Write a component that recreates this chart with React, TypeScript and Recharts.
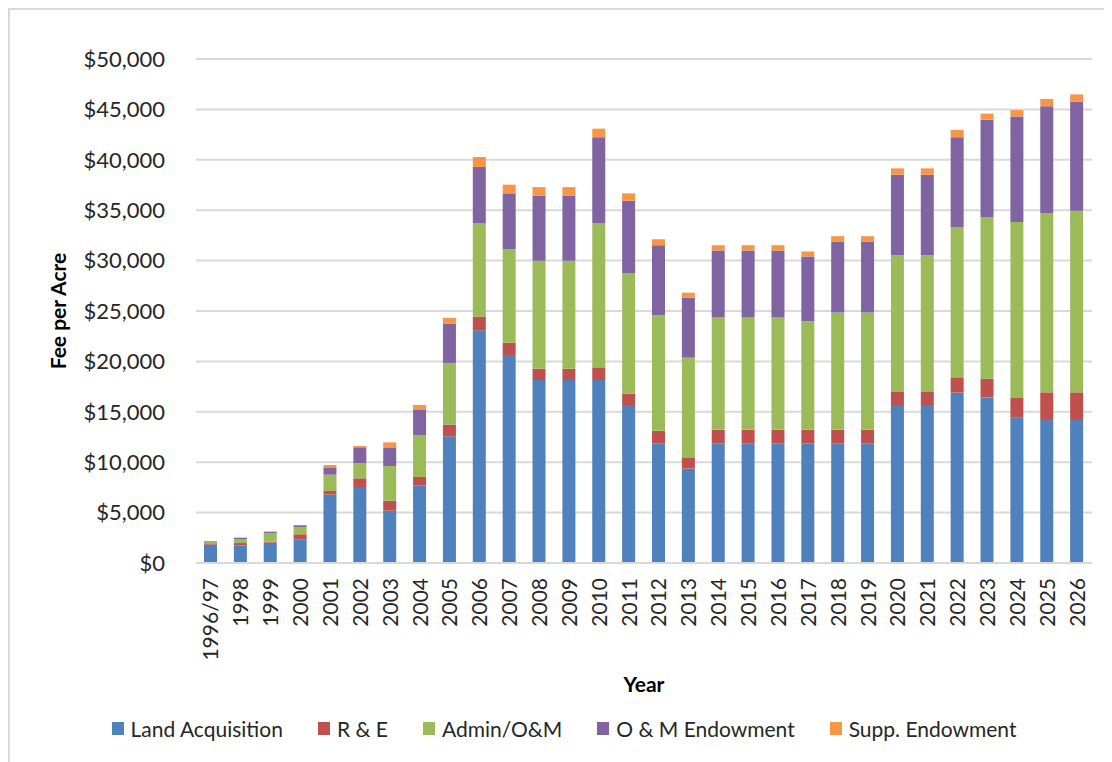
import React from "react";
import { BarChart, Bar, XAxis, YAxis, CartesianGrid } from "recharts";

const years = [
  "1996/97", "1998", "1999", "2000", "2001", "2002", "2003", "2004", "2005", "2006",
  "2007", "2008", "2009", "2010", "2011", "2012", "2013", "2014", "2015", "2016",
  "2017", "2018", "2019", "2020", "2021", "2022", "2023", "2024", "2025", "2026",
];
const landAcquisition = [
  1820, 1750, 2020, 2350, 6780, 7540, 5190, 7670, 12570, 23080,
  20630, 18150, 18150, 18150, 15670, 11850, 9360, 11850, 11850, 11850,
  11850, 11850, 11850, 15670, 15670, 16900, 16430, 14450, 14190, 14190,
];
const rAndE = [
  130, 230, 100, 500, 360, 860, 990, 860, 1160, 1360,
  1220, 1120, 1120, 1260, 1120, 1260, 1120, 1360, 1360, 1360,
  1360, 1360, 1360, 1360, 1360, 1520, 1850, 1980, 2740, 2740,
];
const adminOM = [
  130, 400, 860, 690, 1620, 1490, 3440, 4170, 6120, 9290,
  9260, 10710, 10710, 14320, 11970, 11470, 9890, 11140, 11140, 11140,
  10780, 11640, 11640, 13490, 13490, 14910, 16040, 17390, 17760, 18020,
];
const omEndowment = [
  70, 130, 130, 200, 730, 1590, 1850, 2480, 3870, 5560,
  5560, 6450, 6450, 8500, 7180, 6940, 5950, 6650, 6650, 6650,
  6420, 7010, 7010, 8000, 8000, 8900, 9660, 10480, 10620, 10810,
];
const suppEndowment = [
  0, 0, 0, 0, 230, 130, 500, 500, 600, 990,
  860, 860, 860, 860, 730, 600, 500, 530, 530, 530,
  500, 560, 560, 630, 630, 730, 600, 630, 730, 730,
];
const yTicks = [0, 5000, 10000, 15000, 20000, 25000, 30000, 35000, 40000, 45000, 50000];

const series = [
  { key: "land", name: "Land Acquisition", color: "#4F81BD" },
  { key: "re", name: "R & E", color: "#C0504D" },
  { key: "admin", name: "Admin/O&M", color: "#9BBB59" },
  { key: "om", name: "O & M Endowment", color: "#8064A2" },
  { key: "supp", name: "Supp. Endowment", color: "#F79646" },
];

const data = years.map((year, i) => ({
  year,
  land: landAcquisition[i],
  re: rAndE[i],
  admin: adminOM[i],
  om: omEndowment[i],
  supp: suppEndowment[i],
}));

const font = "Lato, 'Noto Sans', sans-serif";
const textColor = "#262626";

function YearTick({ x, y, payload }: any) {
  return (
    <g transform={`translate(${x},${y})`}>
      <text
        x={0}
        y={0}
        dy="0.36em"
        textAnchor="end"
        transform="rotate(-90)"
        fontFamily={font}
        fontSize={21}
        fill={textColor}
      >
        {payload.value}
      </text>
    </g>
  );
}

function YearLabel({ viewBox }: any) {
  const cx = viewBox.x + viewBox.width / 2;
  return (
    <text x={cx} y={682} textAnchor="middle" fontFamily={font} fontSize={21} fontWeight={700} fill="#000">
      Year
    </text>
  );
}

function FeeLabel({ viewBox }: any) {
  const cx = 48;
  const cy = viewBox.y + viewBox.height / 2;
  return (
    <text
      x={cx}
      y={cy}
      dy="0.36em"
      textAnchor="middle"
      transform={`rotate(-90 ${cx} ${cy})`}
      fontFamily={font}
      fontSize={21}
      fontWeight={700}
      fill="#000"
    >
      Fee per Acre
    </text>
  );
}

function ChartLegend() {
  return (
    <div
      style={{
        position: "absolute",
        left: 0,
        right: 0,
        top: 706,
        display: "flex",
        justifyContent: "center",
        alignItems: "center",
        gap: 35,
        fontFamily: font,
        fontSize: 21,
        color: textColor,
      }}
    >
      {series.map((s) => (
        <div key={s.key} style={{ display: "flex", alignItems: "center" }}>
          <span style={{ width: 12, height: 13, background: s.color, marginRight: 7, display: "inline-block" }} />
          <span>{s.name}</span>
        </div>
      ))}
    </div>
  );
}

export default function App() {
  return (
    <div
      style={{
        position: "relative",
        width: 1108,
        height: 760,
        borderLeft: "2px solid #d9d9d9",
        borderTop: "2px solid #d9d9d9",
        background: "#fff",
      }}
    >
      <BarChart
        width={1100}
        height={750}
        data={data}
        margin={{ top: 49, right: 18, left: 0, bottom: 77 }}
        barSize={13}
      >
        <CartesianGrid vertical={false} stroke="#d9d9d9" strokeWidth={2} />
        <XAxis
          dataKey="year"
          height={120}
          interval={0}
          tick={<YearTick />}
          tickLine={false}
          tickSize={0}
          tickMargin={15}
          axisLine={{ stroke: "#d9d9d9", strokeWidth: 2 }}
          label={<YearLabel />}
        />
        <YAxis
          width={186}
          domain={[0, 50000]}
          ticks={yTicks}
          tickFormatter={(v: number) => "$" + v.toLocaleString("en-US")}
          tick={{ fontFamily: font, fontSize: 22, fill: textColor }}
          tickLine={false}
          tickSize={0}
          tickMargin={31}
          axisLine={false}
          label={<FeeLabel />}
        />
        {series.map((s) => (
          <Bar
            key={s.key}
            dataKey={s.key}
            name={s.name}
            stackId="fee"
            fill={s.color}
            isAnimationActive={false}
          />
        ))}
      </BarChart>
      <ChartLegend />
    </div>
  );
}
